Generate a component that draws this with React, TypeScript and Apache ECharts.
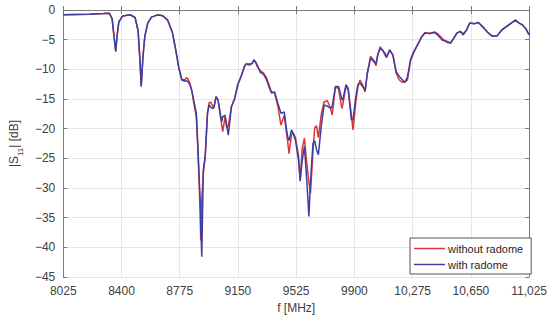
import React, { useEffect, useRef } from "react";
import * as echarts from "echarts";

const freqMHz = [
  8025, 8099, 8192, 8284, 8322, 8340, 8352, 8363, 8371, 8383, 8408, 8457, 8488, 8507, 8519, 8527, 8538, 8550, 8569, 8593,
  8624, 8645, 8668, 8697, 8727, 8748, 8768, 8789, 8810, 8819, 8828, 8841, 8853, 8865, 8882, 8892, 8907, 8910, 8917, 8927,
  8939, 8954, 8964, 8973, 8984, 8995, 9009, 9022, 9036, 9046, 9052, 9067, 9078, 9088, 9108, 9129, 9149, 9170, 9191, 9201,
  9224, 9242, 9253, 9264, 9273, 9293, 9314, 9335, 9350, 9366, 9386, 9407, 9427, 9448, 9469, 9479, 9495, 9508, 9520, 9540,
  9551, 9563, 9578, 9594, 9607, 9617, 9633, 9644, 9656, 9668, 9687, 9705, 9726, 9747, 9757, 9778, 9798, 9819, 9825, 9846,
  9860, 9880, 9891, 9908, 9922, 9936, 9953, 9969, 9983, 10004, 10025, 10039, 10051, 10066, 10082, 10097, 10107, 10127, 10148, 10169,
  10189, 10210, 10224, 10241, 10261, 10282, 10313, 10334, 10354, 10385, 10416, 10436, 10467, 10498, 10519, 10539, 10560, 10581, 10601, 10622,
  10643, 10674, 10698, 10725, 10756, 10787, 10818, 10848, 10879, 10910, 10937, 10961, 10982, 11003, 11025,
];

const withRadome = [
  -0.8, -0.75, -0.7, -0.6, -0.55, -1.5, -4.5, -7.0, -4.5, -2.0, -1.0, -0.8, -1.3, -3.5, -8.5, -12.9, -8.0, -4.5, -2.2, -1.2,
  -0.9, -0.85, -1.0, -1.7, -3.7, -6.5, -9.6, -11.8, -12.0, -11.9, -12.1, -12.6, -13.6, -15.2, -17.4, -23.0, -32.5, -36.0, -41.6, -27.0,
  -24.7, -17.4, -16.0, -16.3, -16.6, -16.5, -14.6, -15.2, -17.4, -18.8, -18.0, -17.7, -19.5, -21.1, -16.3, -14.9, -12.6, -11.2, -9.6, -9.1,
  -9.1, -9.0, -8.4, -8.8, -9.2, -10.5, -10.8, -11.8, -13.0, -14.0, -13.8, -15.7, -17.4, -17.2, -21.3, -22.0, -20.2, -21.0, -21.9, -25.3,
  -28.7, -25.5, -23.0, -29.0, -34.8, -29.0, -22.5, -22.0, -23.5, -24.4, -19.5, -16.0, -16.2, -16.6, -16.2, -12.9, -12.9, -15.0, -15.2, -12.6,
  -13.2, -18.5, -18.5, -14.9, -12.6, -12.3, -12.9, -13.5, -10.7, -8.1, -8.7, -9.0, -7.5, -6.5, -6.8, -7.3, -7.9, -6.7, -7.6, -10.4,
  -11.2, -11.8, -12.2, -11.4, -8.4, -7.0, -5.6, -4.5, -3.9, -3.9, -3.8, -4.2, -5.1, -5.3, -5.6, -4.8, -3.9, -3.6, -4.2, -3.4,
  -2.2, -2.3, -2.1, -2.8, -3.7, -4.4, -4.4, -3.4, -2.8, -2.2, -1.7, -2.2, -2.5, -3.1, -4.2,
];

const withoutRadome = [
  -0.8, -0.75, -0.7, -0.6, -0.55, -1.5, -4.5, -7.0, -4.5, -2.0, -1.0, -0.8, -1.3, -3.5, -8.5, -12.9, -8.0, -4.5, -2.2, -1.2,
  -0.9, -0.85, -1.0, -1.7, -3.7, -6.5, -9.6, -11.8, -11.7, -11.4, -11.6, -12.4, -13.6, -15.6, -18.0, -23.5, -34.0, -38.8, -32.0, -27.5,
  -24.7, -17.4, -15.7, -15.5, -16.0, -16.5, -14.6, -15.2, -17.8, -19.5, -20.5, -18.0, -19.9, -19.5, -16.3, -14.9, -12.6, -11.2, -9.6, -9.1,
  -9.3, -9.0, -8.4, -8.8, -9.5, -10.2, -10.6, -11.5, -12.6, -13.8, -14.0, -16.2, -19.4, -17.8, -21.9, -24.2, -21.0, -20.8, -21.5, -24.5,
  -28.9, -23.5, -21.6, -26.0, -29.0, -30.9, -24.0, -19.9, -19.5, -21.5, -17.5, -15.5, -15.3, -16.6, -17.7, -12.9, -13.3, -16.6, -16.0, -12.8,
  -13.5, -17.5, -20.2, -15.8, -13.0, -11.8, -12.6, -13.8, -10.7, -7.8, -8.5, -9.4, -7.5, -6.2, -6.8, -7.6, -8.0, -6.8, -7.6, -10.7,
  -11.8, -12.2, -12.1, -11.8, -8.6, -7.2, -5.5, -4.5, -3.8, -4.0, -3.7, -4.0, -4.8, -5.5, -5.5, -4.8, -3.9, -3.6, -4.0, -3.4,
  -2.2, -2.3, -2.1, -2.8, -3.7, -4.4, -4.4, -3.4, -2.8, -2.2, -1.7, -2.2, -2.5, -3.1, -4.2,
];

const seriesNames = ["without radome", "with radome"];
const seriesColors = ["#dd3535", "#3b3fa3"];

const X_MIN = 8025;
const X_MAX = 11025;
const X_STEP = 375;
const Y_MIN = -45;
const Y_MAX = 0;
const Y_STEP = 5;

const fmtX = (v: number) => (v >= 10000 ? String(v).replace(/(\d{2})(\d{3})$/, "$1,$2") : String(v));
const fmtY = (v: number) => String(v).replace("-", "\u2212");

export default function App() {
  const ref = useRef<HTMLDivElement>(null);
  useEffect(() => {
    document.body.style.margin = "0";
    if (!ref.current) return;
    const chart = echarts.init(ref.current, undefined, { renderer: "svg" });
    const font = "'Liberation Sans', Arial, sans-serif";
    const axisColor = "#7a7a7a";
    const labelColor = "#404040";
    const mk = (vals: number[]) => freqMHz.map((f, i) => [f, vals[i]]);
    chart.setOption({
      animation: false,
      backgroundColor: "#ffffff",
      textStyle: { fontFamily: font },
      grid: { left: 48, right: 16, top: 10, bottom: 42, containLabel: false },
      legend: {
        left: 410,
        top: 238,
        orient: "vertical",
        icon: "rect",
        itemWidth: 31,
        itemHeight: 1.5,
        itemGap: 5,
        padding: [5, 8, 4, 4],
        backgroundColor: "#ffffff",
        borderColor: "#555555",
        borderWidth: 1,
        borderRadius: 0,
        textStyle: { fontSize: 11, color: "#262626", fontFamily: font, padding: [0, 0, 0, -2] },
        data: seriesNames,
      },
      xAxis: [
        {
          type: "value",
          min: X_MIN,
          max: X_MAX,
          interval: X_STEP,
          name: "f [MHz]",
          nameLocation: "middle",
          nameGap: 25,
          nameTextStyle: { fontSize: 12, color: labelColor, fontFamily: font },
          axisLine: { show: true, lineStyle: { color: axisColor, width: 1 } },
          axisTick: { show: true, inside: true, length: 4, lineStyle: { color: axisColor } },
          axisLabel: { color: labelColor, fontSize: 12, margin: 8, formatter: fmtX },
          splitLine: { show: true, lineStyle: { color: "#e5e5e5", width: 1 } },
        },
        {
          type: "value",
          position: "top",
          min: X_MIN,
          max: X_MAX,
          interval: X_STEP,
          axisLine: { show: true, lineStyle: { color: axisColor, width: 1 } },
          axisTick: { show: true, inside: true, length: 4, lineStyle: { color: axisColor } },
          axisLabel: { show: false },
          splitLine: { show: false },
        },
      ],
      yAxis: [
        {
          type: "value",
          min: Y_MIN,
          max: Y_MAX,
          interval: Y_STEP,
          name: "|S{sub|11}| [dB]",
          nameLocation: "middle",
          nameGap: 31,
          nameRotate: 90,
          nameTextStyle: {
            fontSize: 12,
            color: labelColor,
            fontFamily: font,
            rich: { sub: { fontSize: 8, verticalAlign: "bottom", color: labelColor, padding: [0, 0, -4, 0] } },
          },
          axisLine: { show: true, lineStyle: { color: axisColor, width: 1 } },
          axisTick: { show: true, inside: true, length: 4, lineStyle: { color: axisColor } },
          axisLabel: { color: labelColor, fontSize: 12, margin: 8, formatter: fmtY },
          splitLine: { show: true, lineStyle: { color: "#e5e5e5", width: 1 } },
        },
        {
          type: "value",
          position: "right",
          min: Y_MIN,
          max: Y_MAX,
          interval: Y_STEP,
          axisLine: { show: true, lineStyle: { color: axisColor, width: 1 } },
          axisTick: { show: true, inside: true, length: 4, lineStyle: { color: axisColor } },
          axisLabel: { show: false },
          splitLine: { show: false },
        },
      ],
      series: [
        {
          name: seriesNames[0],
          type: "line",
          xAxisIndex: 0,
          yAxisIndex: 0,
          data: mk(withoutRadome),
          showSymbol: false,
          symbol: "none",
          lineStyle: { color: seriesColors[0], width: 1.5 },
          itemStyle: { color: seriesColors[0] },
        },
        {
          name: seriesNames[1],
          type: "line",
          xAxisIndex: 0,
          yAxisIndex: 0,
          data: mk(withRadome),
          showSymbol: false,
          symbol: "none",
          lineStyle: { color: seriesColors[1], width: 1.5 },
          itemStyle: { color: seriesColors[1] },
        },
      ],
    });
    return () => chart.dispose();
  }, []);
  return <div ref={ref} style={{ width: 550, height: 319 }} />;
}
